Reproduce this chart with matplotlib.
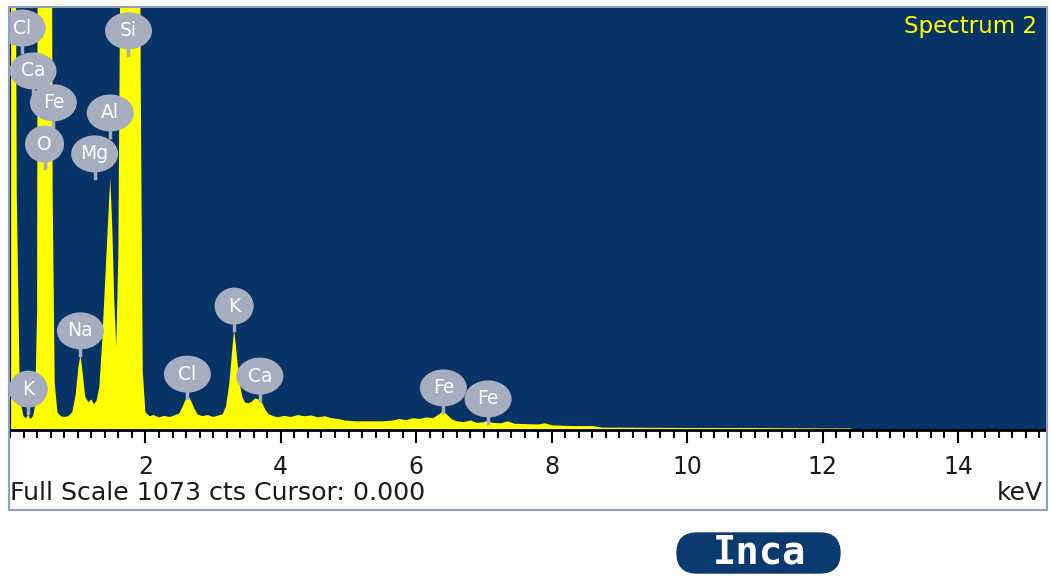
import matplotlib
matplotlib.use("Agg")
import matplotlib.pyplot as plt
from matplotlib.patches import Ellipse, FancyBboxPatch, Rectangle
from matplotlib.lines import Line2D
from matplotlib.transforms import ScaledTranslation
from matplotlib.ticker import MultipleLocator

# ---------------- data ----------------
energy_kev = [0.00, 0.02, 0.06, 0.10, 0.14, 0.17, 0.20, 0.24, 0.27, 0.30, 0.34, 0.37,
              0.40, 0.42, 0.60, 0.63, 0.66, 0.70, 0.75, 0.80, 0.86, 0.92, 0.97, 1.01,
              1.04, 1.07, 1.11, 1.16, 1.20, 1.24, 1.28, 1.32, 1.36, 1.40, 1.44, 1.48,
              1.51, 1.54, 1.57, 1.60, 1.63, 1.66, 1.90, 1.93, 1.96, 2.00, 2.06, 2.12,
              2.20, 2.28, 2.36, 2.44, 2.50, 2.55, 2.60, 2.64, 2.68, 2.72, 2.77, 2.84,
              2.92, 3.00, 3.08, 3.14, 3.19, 3.24, 3.28, 3.31, 3.35, 3.39, 3.43, 3.47,
              3.52, 3.57, 3.62, 3.67, 3.72, 3.77, 3.82, 3.88, 3.95, 4.05, 4.15, 4.25,
              4.35, 4.45, 4.55, 4.65, 4.75, 4.85, 4.95, 5.10, 5.30, 5.50, 5.65, 5.75,
              5.85, 5.95, 6.05, 6.15, 6.25, 6.32, 6.40, 6.46, 6.52, 6.60, 6.70, 6.80,
              6.90, 7.00, 7.06, 7.12, 7.25, 7.35, 7.45, 7.60, 7.80, 7.90, 8.00, 8.30,
              8.60, 8.75, 9.00, 10.00, 11.00, 12.00, 12.40, 12.50, 15.30]
counts = [300, 2500, 2500, 600, 150, 60, 35, 30, 40, 28, 35, 60,
          300, 2500, 2500, 600, 120, 45, 35, 33, 35, 45, 90, 160,
          190, 150, 85, 70, 78, 65, 75, 110, 220, 360, 500, 640,
          520, 330, 210, 450, 1200, 2500, 2500, 900, 150, 45, 35, 38,
          32, 36, 33, 38, 42, 60, 80, 84, 72, 55, 40, 35,
          38, 33, 37, 40, 60, 120, 200, 255, 190, 120, 85, 70,
          68, 72, 80, 78, 70, 52, 40, 36, 32, 36, 33, 38,
          35, 37, 32, 35, 30, 28, 24, 22, 22, 22, 24, 28,
          25, 30, 28, 32, 30, 38, 48, 38, 28, 22, 20, 24,
          18, 20, 24, 18, 17, 22, 16, 15, 14, 17, 12, 10,
          10, 6, 6, 5, 5, 4, 4, 0, 0]
full_scale_cts = 1073

peak_labels = ["Cl", "Ca", "Fe", "O", "Al", "Mg", "Si", "K", "Na", "Cl", "K", "Ca", "Fe", "Fe"]
label_energy = [0.18, 0.34, 0.64, 0.51, 1.48, 1.25, 1.75, 0.27, 1.04, 2.62, 3.31, 3.69, 6.40, 7.06]
label_counts = [961, 852, 771, 666, 745, 641, 954, 43, 191, 81, 254, 76, 46, 18]

x_tick_values = [2, 4, 6, 8, 10, 12, 14]
spectrum_name = "Spectrum 2"
footer_text = "Full Scale 1073 cts Cursor: 0.000"
unit_text = "keV"
logo_text = "Inca"

# ---------------- styling ----------------
W, H = 1051, 576
BG = "#083366"
YEL = "#ffff00"
BUBBLE = "#a5adbf"

fig = plt.figure(figsize=(W / 100, H / 100), dpi=100)
fig.patch.set_facecolor("white")

ax = fig.add_axes([10 / W, (H - 430) / H, 1036 / W, 422 / H])
ax.set_facecolor(BG)
ax.fill_between(energy_kev, counts, 0, color=YEL, lw=0, zorder=2)

# peak label bubbles
stem_in = 0.24
for lab, e, c in zip(peak_labels, label_energy, label_counts):
    tr = fig.dpi_scale_trans + ScaledTranslation(e, c, ax.transData)
    ln = Line2D([0, 0], [0, stem_in], transform=tr, color=BUBBLE, lw=2.5, zorder=4)
    ax.add_line(ln)
    w_px = 31 + 8 * len(lab)
    ell = Ellipse((0, stem_in), w_px / 100, 0.37, transform=tr,
                  facecolor=BUBBLE, edgecolor="none", zorder=5)
    ax.add_patch(ell)
    ax.text(0, stem_in, lab, transform=tr, ha="center", va="center",
            color="white", fontsize=13.5, zorder=6, clip_on=True)

ax.set_xlim(0, 15.3)
ax.set_ylim(0, full_scale_cts)

for s in ["top", "right"]:
    ax.spines[s].set_visible(False)
ax.spines["left"].set_color("black")
ax.spines["left"].set_linewidth(1.5)
ax.spines["bottom"].set_color("black")
ax.spines["bottom"].set_linewidth(2)
ax.spines["bottom"].set_zorder(7)

ax.set_yticks([])
ax.set_xticks(x_tick_values)
ax.set_xticklabels([str(v) for v in x_tick_values])
ax.xaxis.set_minor_locator(MultipleLocator(0.2))
ax.tick_params(axis="x", which="major", direction="out", length=9, width=1.5,
               color="black", labelsize=17, pad=9, labelcolor="#1a1a1a")
ax.tick_params(axis="x", which="minor", direction="out", length=6, width=1.5, color="black")

ax.text(1 - 9 / 1036, 1 - 19 / 422, spectrum_name, transform=ax.transAxes,
        ha="right", va="center", color=YEL, fontsize=16.5, zorder=8)

# footer texts
fig.text(10 / W, (H - 493) / H, footer_text, ha="left", va="center",
         fontsize=18.2, color="#1a1a1a")
fig.text(1043 / W, (H - 493) / H, unit_text, ha="right", va="center",
         fontsize=18, color="#1a1a1a")

# panel frame
fig.add_artist(Rectangle((9 / W, (H - 510) / H), 1038 / W, 503 / H,
                         transform=fig.transFigure, fill=False,
                         edgecolor="#8ea0c4", lw=1.5))

# logo
logo = FancyBboxPatch((6.77, 0.03), 1.63, 0.40,
                      boxstyle="round,pad=0,rounding_size=0.2",
                      transform=fig.dpi_scale_trans, facecolor="#0b3a70",
                      edgecolor="#0b3a70", lw=1)
fig.add_artist(logo)
fig.text(759 / W, (H - 553) / H, logo_text, ha="center", va="center",
         color="white", fontsize=28, fontweight="bold", family="DejaVu Sans Mono")

fig.savefig("out.png", dpi=100, facecolor="white")
